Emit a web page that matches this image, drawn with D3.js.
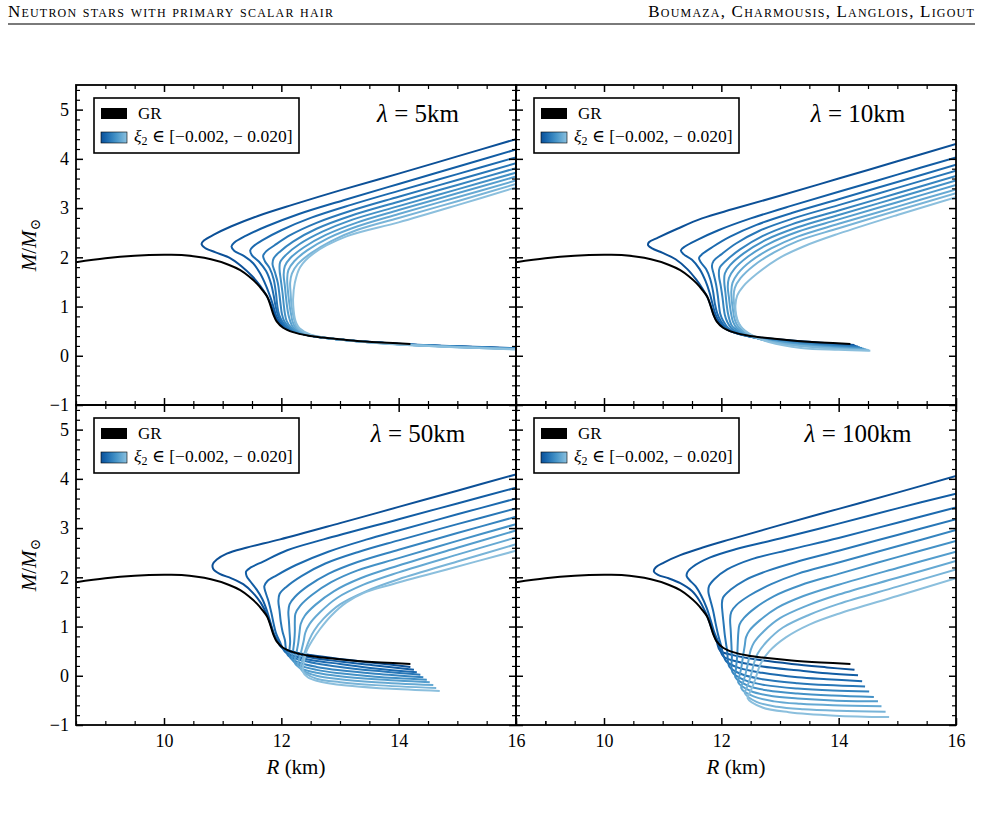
<!DOCTYPE html>
<html>
<head>
<meta charset="utf-8">
<script src="https://cdn.jsdelivr.net/npm/d3@7"></script>
<style>
  body { margin: 0; background: #fff; }
  svg { display: block; }
  text { font-family: "Liberation Serif", "DejaVu Serif", serif; fill: #000; }
</style>
</head>
<body>
<svg id="fig" width="982" height="814"></svg>
<script>
// tick values
const xTicks = [10, 12, 14, 16];
const yTicks = [-1, 0, 1, 2, 3, 4, 5];
const lambdas = ["5", "10", "50", "100"];
const xiValues = [-0.002, -0.004, -0.006, -0.008, -0.010, -0.012, -0.014, -0.016, -0.018, -0.020];
const xiLabel = "[\u22120.002, \u2212 0.020]";

// GR mass-radius curve [R (km), M/Msun]
const grCurve = [[8.5,1.90],[9.0,1.98],[9.5,2.03],[10.0,2.05],[10.3,2.045],[10.8,1.96],[11.1,1.85],[11.3,1.74],[11.45,1.61],[11.58,1.47],[11.68,1.33],[11.76,1.20],[11.82,1.00],[11.87,0.82],[11.92,0.70],[12.03,0.57],[12.2,0.48],[12.45,0.41],[12.7,0.37],[13.2,0.31],[13.7,0.27],[14.2,0.24]];

// lambda = 5 km, one curve per xi2
const curvesL5 = [
  [[16,4.40],[15,4.05],[14,3.70],[13,3.36],[12.2,3.07],[11.6,2.84],[11.15,2.63],[10.85,2.46],[10.68,2.34],[10.64,2.27],[10.70,2.19],[10.88,2.10],[11.12,1.99],[11.32,1.82],[11.5,1.62],[11.64,1.42],[11.75,1.22],[11.83,1.02],[11.89,0.82],[11.95,0.69],[12.06,0.56],[12.4,0.43],[13.0,0.33],[14.0,0.245],[16,0.155]],
  [[16,4.19],[15,3.84],[14,3.49],[13.06,3.16],[12.3,2.88],[11.75,2.63],[11.4,2.44],[11.2,2.30],[11.15,2.22],[11.2,2.13],[11.36,2.03],[11.52,1.88],[11.64,1.67],[11.74,1.42],[11.81,1.20],[11.86,1.02],[11.91,0.82],[11.97,0.69],[12.08,0.56],[12.4,0.43],[13.0,0.33],[14.0,0.24],[16,0.15]],
  [[16,4.03],[15,3.69],[14,3.35],[13.2,3.07],[12.5,2.80],[12.0,2.55],[11.68,2.35],[11.52,2.22],[11.47,2.14],[11.5,2.04],[11.62,1.91],[11.74,1.72],[11.82,1.48],[11.87,1.22],[11.9,1.02],[11.94,0.83],[12.0,0.69],[12.1,0.56],[12.4,0.43],[13.0,0.33],[14.0,0.24],[16,0.15]],
  [[16,3.91],[15,3.57],[14,3.23],[13.2,2.95],[12.6,2.70],[12.15,2.45],[11.88,2.24],[11.74,2.12],[11.69,2.03],[11.72,1.92],[11.8,1.78],[11.87,1.55],[11.91,1.25],[11.93,1.03],[11.96,0.84],[12.02,0.69],[12.12,0.56],[12.4,0.43],[13.0,0.33],[14.0,0.24],[16,0.148]],
  [[16,3.81],[15,3.47],[14,3.13],[13.2,2.85],[12.6,2.58],[12.2,2.32],[11.98,2.12],[11.87,1.98],[11.85,1.86],[11.89,1.70],[11.94,1.48],[11.97,1.22],[11.99,1.02],[12.01,0.85],[12.05,0.70],[12.14,0.57],[12.4,0.43],[13.0,0.33],[14.0,0.24],[16,0.145]],
  [[16,3.72],[15,3.38],[14,3.04],[13.2,2.76],[12.7,2.52],[12.3,2.26],[12.08,2.05],[11.98,1.90],[11.97,1.75],[11.99,1.55],[12.02,1.28],[12.04,1.05],[12.06,0.86],[12.09,0.71],[12.17,0.57],[12.42,0.43],[13.0,0.33],[14.0,0.235],[16,0.142]],
  [[16,3.64],[15,3.30],[14,2.96],[13.3,2.71],[12.75,2.45],[12.38,2.20],[12.15,1.98],[12.06,1.82],[12.04,1.65],[12.06,1.42],[12.08,1.18],[12.1,0.98],[12.12,0.84],[12.15,0.71],[12.2,0.58],[12.44,0.43],[13.0,0.33],[14.0,0.235],[16,0.14]],
  [[16,3.56],[15,3.22],[14,2.88],[13.3,2.63],[12.8,2.39],[12.44,2.14],[12.22,1.92],[12.12,1.74],[12.10,1.56],[12.11,1.35],[12.13,1.12],[12.15,0.95],[12.17,0.82],[12.19,0.70],[12.24,0.58],[12.46,0.43],[13.0,0.33],[14.0,0.232],[16,0.137]],
  [[16,3.49],[15,3.14],[14,2.80],[13.3,2.56],[12.85,2.33],[12.5,2.08],[12.28,1.86],[12.18,1.67],[12.15,1.48],[12.16,1.25],[12.17,1.05],[12.19,0.90],[12.21,0.78],[12.23,0.68],[12.27,0.57],[12.48,0.43],[13.0,0.33],[14.0,0.23],[16,0.134]],
  [[16,3.42],[15,3.06],[14,2.71],[13.1,2.42],[12.55,2.08],[12.32,1.80],[12.23,1.48],[12.2,1.15],[12.21,0.92],[12.23,0.76],[12.26,0.65],[12.31,0.56],[12.5,0.43],[13.0,0.33],[14.0,0.228],[16,0.13]]
];

// lambda = 10 km
const curvesL10 = [
  [[16,4.30],[15,3.95],[14,3.60],[13,3.25],[12.2,2.98],[11.67,2.79],[11.25,2.58],[10.92,2.40],[10.77,2.31],[10.75,2.25],[10.82,2.18],[11.0,2.09],[11.22,1.96],[11.42,1.76],[11.57,1.55],[11.68,1.36],[11.77,1.17],[11.83,0.98],[11.88,0.80],[11.94,0.68],[12.05,0.56],[12.25,0.46],[12.6,0.38],[13.1,0.32],[13.7,0.265],[14.27,0.22]],
  [[16,4.03],[15,3.68],[14,3.33],[13.2,3.05],[12.5,2.79],[11.95,2.55],[11.6,2.36],[11.38,2.22],[11.31,2.14],[11.36,2.06],[11.5,1.95],[11.63,1.76],[11.73,1.52],[11.8,1.28],[11.85,1.05],[11.9,0.84],[11.96,0.70],[12.07,0.56],[12.27,0.45],[12.6,0.37],[13.1,0.31],[13.7,0.25],[14.3,0.20]],
  [[16,3.88],[15,3.53],[14,3.18],[13.2,2.90],[12.6,2.66],[12.15,2.42],[11.85,2.21],[11.68,2.07],[11.62,1.99],[11.65,1.90],[11.74,1.76],[11.81,1.56],[11.86,1.30],[11.89,1.06],[11.93,0.86],[11.99,0.71],[12.09,0.56],[12.29,0.45],[12.6,0.365],[13.1,0.30],[13.7,0.24],[14.33,0.19]],
  [[16,3.76],[15,3.41],[14,3.06],[13.2,2.78],[12.65,2.54],[12.25,2.28],[12.0,2.06],[11.87,1.93],[11.84,1.82],[11.87,1.66],[11.91,1.45],[11.94,1.22],[11.96,1.02],[11.98,0.86],[12.03,0.71],[12.12,0.56],[12.31,0.45],[12.6,0.36],[13.1,0.29],[13.7,0.23],[14.36,0.175]],
  [[16,3.65],[15,3.30],[14,2.95],[13.2,2.67],[12.7,2.43],[12.32,2.16],[12.08,1.93],[11.97,1.78],[11.96,1.62],[11.99,1.42],[12.02,1.18],[12.04,0.98],[12.06,0.83],[12.1,0.69],[12.17,0.56],[12.34,0.45],[12.62,0.355],[13.1,0.28],[13.7,0.215],[14.4,0.16]],
  [[16,3.56],[15,3.21],[14,2.86],[13.3,2.61],[12.75,2.35],[12.38,2.08],[12.15,1.84],[12.06,1.67],[12.05,1.50],[12.07,1.28],[12.09,1.05],[12.11,0.88],[12.14,0.73],[12.19,0.59],[12.36,0.46],[12.64,0.35],[13.1,0.27],[13.7,0.20],[14.43,0.145]],
  [[16,3.47],[15,3.12],[14,2.77],[13.3,2.52],[12.8,2.27],[12.45,2.01],[12.22,1.76],[12.13,1.58],[12.11,1.40],[12.13,1.18],[12.15,0.98],[12.17,0.83],[12.2,0.69],[12.26,0.57],[12.39,0.46],[12.66,0.34],[13.1,0.26],[13.7,0.19],[14.46,0.13]],
  [[16,3.38],[15,3.03],[14,2.68],[13.3,2.42],[12.85,2.18],[12.5,1.92],[12.28,1.67],[12.19,1.48],[12.17,1.30],[12.18,1.10],[12.2,0.92],[12.22,0.77],[12.26,0.64],[12.33,0.54],[12.43,0.45],[12.68,0.33],[13.1,0.24],[13.7,0.175],[14.49,0.12]],
  [[16,3.30],[15,2.95],[14,2.59],[13.3,2.33],[12.9,2.10],[12.55,1.83],[12.33,1.58],[12.23,1.38],[12.21,1.20],[12.22,1.02],[12.24,0.86],[12.27,0.72],[12.32,0.61],[12.39,0.52],[12.48,0.44],[12.72,0.32],[13.1,0.235],[13.7,0.165],[14.52,0.11]],
  [[16,3.22],[15,2.86],[14,2.48],[13.4,2.22],[12.95,1.96],[12.6,1.66],[12.38,1.42],[12.27,1.22],[12.24,1.02],[12.25,0.85],[12.28,0.71],[12.33,0.60],[12.41,0.50],[12.55,0.40],[12.81,0.28],[13.36,0.16],[14.0,0.12],[14.54,0.10]]
];

// lambda = 50 km
const curvesL50 = [
  [[16,4.09],[15,3.76],[14,3.43],[13,3.10],[11.98,2.77],[11.4,2.60],[11.07,2.48],[10.9,2.36],[10.83,2.26],[10.84,2.17],[10.95,2.07],[11.15,1.98],[11.35,1.86],[11.52,1.68],[11.65,1.48],[11.75,1.25],[11.82,1.03],[11.88,0.82],[11.94,0.69],[12.0,0.58],[12.2,0.49],[12.5,0.42],[13.0,0.34],[13.6,0.26],[14.2,0.18]],
  [[16,3.82],[15,3.50],[14,3.18],[12.72,2.77],[12.1,2.55],[11.69,2.32],[11.48,2.20],[11.40,2.12],[11.41,2.02],[11.47,1.92],[11.58,1.75],[11.68,1.55],[11.76,1.30],[11.82,1.06],[11.87,0.86],[11.93,0.72],[12.03,0.55],[12.2,0.46],[12.5,0.37],[13.0,0.29],[13.6,0.21],[14.26,0.12]],
  [[16,3.60],[15,3.28],[14,2.95],[13.46,2.77],[12.8,2.52],[12.25,2.25],[11.92,2.04],[11.76,1.92],[11.71,1.82],[11.73,1.70],[11.78,1.52],[11.83,1.28],[11.87,1.05],[11.91,0.86],[11.97,0.70],[12.07,0.48],[12.25,0.39],[12.55,0.31],[13.0,0.24],[13.6,0.15],[14.31,0.07]],
  [[16,3.40],[15,3.08],[14,2.75],[13.3,2.51],[12.75,2.28],[12.35,2.03],[12.08,1.80],[11.97,1.66],[11.95,1.52],[11.97,1.32],[11.99,1.10],[12.02,0.90],[12.06,0.73],[12.11,0.42],[12.3,0.33],[12.6,0.25],[13.0,0.18],[13.6,0.10],[14.37,0.02]],
  [[16,3.23],[15,2.90],[14,2.56],[13.3,2.31],[12.8,2.07],[12.45,1.82],[12.23,1.60],[12.14,1.45],[12.12,1.30],[12.13,1.10],[12.14,0.90],[12.15,0.70],[12.15,0.37],[12.3,0.27],[12.6,0.18],[13.0,0.11],[13.6,0.04],[14.42,-0.03]],
  [[16,3.08],[15,2.74],[14,2.39],[13.3,2.14],[12.85,1.90],[12.52,1.64],[12.32,1.42],[12.24,1.26],[12.23,1.10],[12.23,0.90],[12.22,0.70],[12.2,0.50],[12.19,0.32],[12.32,0.21],[12.6,0.12],[13.0,0.05],[13.6,-0.02],[14.48,-0.08]],
  [[16,2.95],[15,2.60],[14,2.24],[13.35,1.98],[12.9,1.72],[12.58,1.44],[12.4,1.22],[12.33,1.05],[12.31,0.88],[12.29,0.68],[12.26,0.48],[12.23,0.26],[12.34,0.15],[12.6,0.06],[13.0,-0.01],[13.6,-0.07],[14.53,-0.13]],
  [[16,2.81],[15,2.46],[14,2.10],[13.4,1.85],[12.95,1.58],[12.65,1.28],[12.48,1.05],[12.41,0.88],[12.38,0.70],[12.34,0.50],[12.3,0.32],[12.28,0.21],[12.38,0.10],[12.6,0.0],[13.0,-0.07],[13.6,-0.13],[14.59,-0.19]],
  [[16,2.67],[15,2.32],[14,1.96],[13.45,1.72],[13.0,1.45],[12.72,1.16],[12.56,0.92],[12.48,0.74],[12.42,0.55],[12.37,0.36],[12.33,0.15],[12.42,0.04],[12.6,-0.06],[13.0,-0.13],[13.6,-0.19],[14.64,-0.25]],
  [[16,2.54],[14.82,2.16],[13.8,1.83],[13.4,1.68],[13.11,1.49],[12.85,1.22],[12.66,0.95],[12.53,0.72],[12.43,0.50],[12.38,0.25],[12.37,0.08],[12.45,-0.03],[12.6,-0.10],[13.11,-0.20],[13.8,-0.26],[14.70,-0.31]]
];

// lambda = 100 km
const curvesL100 = [
  [[16,4.06],[15,3.72],[14,3.39],[13,3.06],[12.15,2.77],[11.67,2.60],[11.3,2.45],[11.02,2.30],[10.88,2.20],[10.85,2.12],[10.92,2.05],[11.1,1.98],[11.3,1.88],[11.5,1.72],[11.63,1.52],[11.73,1.29],[11.8,1.08],[11.86,0.87],[11.92,0.70],[11.98,0.51],[12.2,0.42],[12.6,0.33],[13.2,0.24],[13.8,0.17],[14.27,0.12]],
  [[16,3.70],[15,3.40],[14,3.09],[13.0,2.79],[12.24,2.57],[11.8,2.40],[11.52,2.22],[11.42,2.10],[11.41,2.02],[11.46,1.94],[11.56,1.82],[11.66,1.62],[11.75,1.38],[11.82,1.12],[11.88,0.88],[11.95,0.68],[12.03,0.40],[12.3,0.28],[12.7,0.19],[13.3,0.11],[13.8,0.05],[14.33,0.01]],
  [[16,3.42],[15,3.11],[14,2.80],[13.2,2.57],[12.52,2.37],[12.1,2.16],[11.88,1.96],[11.79,1.82],[11.78,1.70],[11.81,1.55],[11.86,1.32],[11.9,1.08],[11.94,0.86],[11.99,0.64],[12.08,0.30],[12.3,0.16],[12.7,0.06],[13.3,-0.03],[13.8,-0.07],[14.40,-0.11]],
  [[16,3.18],[15,2.86],[14,2.54],[13.3,2.32],[12.81,2.14],[12.4,1.94],[12.15,1.74],[12.03,1.59],[12.01,1.46],[12.02,1.28],[12.04,1.05],[12.06,0.82],[12.1,0.50],[12.14,0.18],[12.35,0.03],[12.7,-0.07],[13.3,-0.15],[13.8,-0.19],[14.45,-0.22]],
  [[16,2.96],[15,2.63],[14,2.30],[13.3,2.07],[12.85,1.86],[12.48,1.63],[12.26,1.44],[12.17,1.30],[12.15,1.14],[12.16,0.92],[12.17,0.68],[12.18,0.40],[12.19,0.07],[12.4,-0.09],[12.75,-0.19],[13.3,-0.26],[13.9,-0.30],[14.52,-0.32]],
  [[16,2.74],[15,2.41],[14,2.07],[13.35,1.84],[12.9,1.62],[12.58,1.38],[12.39,1.18],[12.31,1.04],[12.29,0.88],[12.28,0.66],[12.27,0.40],[12.25,0.15],[12.24,-0.03],[12.45,-0.20],[12.8,-0.30],[13.3,-0.36],[13.9,-0.40],[14.60,-0.43]],
  [[16,2.52],[15,2.19],[14,1.85],[13.4,1.62],[12.95,1.38],[12.65,1.12],[12.48,0.92],[12.42,0.78],[12.4,0.62],[12.37,0.40],[12.34,0.16],[12.3,-0.05],[12.29,-0.14],[12.5,-0.31],[12.85,-0.41],[13.3,-0.46],[13.9,-0.50],[14.67,-0.52]],
  [[16,2.33],[15,1.99],[14,1.65],[13.45,1.42],[13.0,1.17],[12.72,0.90],[12.56,0.68],[12.5,0.52],[12.47,0.35],[12.43,0.12],[12.38,-0.10],[12.34,-0.25],[12.55,-0.42],[12.9,-0.52],[13.35,-0.57],[13.9,-0.60],[14.73,-0.62]],
  [[16,2.16],[15,1.81],[14,1.46],[13.5,1.24],[13.05,0.98],[12.78,0.70],[12.62,0.45],[12.56,0.27],[12.52,0.08],[12.47,-0.13],[12.42,-0.28],[12.40,-0.35],[12.6,-0.53],[12.95,-0.63],[13.4,-0.68],[14.0,-0.71],[14.80,-0.73]],
  [[16,1.98],[15,1.62],[14,1.26],[13.5,1.04],[13.1,0.78],[12.82,0.50],[12.66,0.22],[12.58,-0.07],[12.52,-0.25],[12.47,-0.38],[12.45,-0.46],[12.69,-0.64],[13.15,-0.74],[13.94,-0.81],[14.86,-0.84]]
];

const svg = d3.select("#fig");
const W = 440, H = 320;
const lefts = [76, 516], tops = [85, 405];

const x = d3.scaleLinear().domain([8.5, 16]).range([0, W]);
const y = d3.scaleLinear().domain([-1, 5.5]).range([H, 0]);
const blue = d3.scaleLinear().domain([xiValues[0], xiValues[xiValues.length - 1]]).range([0.88, 0.42]);

const line = d3.line()
  .x(d => x(d[0]))
  .y(d => y(d[1]))
  .curve(d3.curveCatmullRom.alpha(0.5));

// running header
svg.append("text").attr("x", 8).attr("y", 17)
  .style("font-size", "17px").style("font-variant", "small-caps").style("letter-spacing", "1.2px")
  .text("Neutron stars with primary scalar hair");
svg.append("text").attr("x", 975).attr("y", 17).attr("text-anchor", "end")
  .style("font-size", "17px").style("font-variant", "small-caps").style("letter-spacing", "1.2px")
  .text("Boumaza, Charmousis, Langlois, Ligout");
svg.append("line").attr("x1", 8).attr("x2", 975).attr("y1", 24).attr("y2", 24)
  .attr("stroke", "#7a7a7a").attr("stroke-width", 2);

// gradient for legend patch
const grad = svg.append("defs").append("linearGradient").attr("id", "xiGrad");
xiValues.forEach((v, i) => {
  grad.append("stop").attr("offset", i / (xiValues.length - 1))
    .attr("stop-color", d3.interpolateBlues(blue(v)));
});

const panels = [
  { curves: curvesL5, lam: lambdas[0], col: 0, row: 0 },
  { curves: curvesL10, lam: lambdas[1], col: 1, row: 0 },
  { curves: curvesL50, lam: lambdas[2], col: 0, row: 1 },
  { curves: curvesL100, lam: lambdas[3], col: 1, row: 1 }
];

const minorX = d3.range(17).map(i => 8.5 + i * 0.5).filter(v => !xTicks.includes(v));
const minorY = d3.range(33).map(i => +(-1 + i * 0.2).toFixed(1)).filter(v => !yTicks.includes(v));

panels.forEach((p, pi) => {
  const g = svg.append("g").attr("transform", `translate(${lefts[p.col]},${tops[p.row]})`);

  g.append("clipPath").attr("id", "clip" + pi)
    .append("rect").attr("width", W).attr("height", H);

  const plot = g.append("g").attr("clip-path", `url(#clip${pi})`);

  p.curves.forEach((c, i) => {
    plot.append("path").datum(c)
      .attr("d", line)
      .attr("fill", "none")
      .attr("stroke", d3.interpolateBlues(blue(xiValues[i])))
      .attr("stroke-width", 2);
  });

  plot.append("path").datum(grCurve)
    .attr("d", line)
    .attr("fill", "none")
    .attr("stroke", "#000")
    .attr("stroke-width", 2);

  // ticks on four sides, pointing inward
  const axes = [
    [d3.axisBottom(x), `translate(0,${H})`],
    [d3.axisTop(x), "translate(0,0)"],
    [d3.axisLeft(y), "translate(0,0)"],
    [d3.axisRight(y), `translate(${W},0)`]
  ];
  axes.forEach(([ax, tr], ai) => {
    const isX = ai < 2;
    const showLabels = (ai === 0 && p.row === 1) || (ai === 2 && p.col === 0);
    const major = ax.tickValues(isX ? xTicks : yTicks).tickSize(-7)
      .tickPadding(isX ? 9 : 7)
      .tickFormat(showLabels ? (d => d < 0 ? "\u2212" + Math.abs(d) : d) : "");
    const ga = g.append("g").attr("transform", tr).call(major);
    ga.select(".domain").remove();
    ga.selectAll("line").attr("stroke-width", 1.5);
    ga.selectAll("text").style("font-size", "18px").style("font-family", "Liberation Serif, serif");

    const minorAx = (ai === 0 ? d3.axisBottom(x) : ai === 1 ? d3.axisTop(x) : ai === 2 ? d3.axisLeft(y) : d3.axisRight(y))
      .tickValues(isX ? minorX : minorY).tickSize(-4).tickFormat("");
    const gm = g.append("g").attr("transform", tr).call(minorAx);
    gm.select(".domain").remove();
    gm.selectAll("line").attr("stroke-width", 1.2);
  });

  g.append("rect").attr("width", W).attr("height", H)
    .attr("fill", "none").attr("stroke", "#000").attr("stroke-width", 1.8);

  // lambda label
  g.append("text").attr("x", 342).attr("y", 37).attr("text-anchor", "middle")
    .style("font-size", "25px")
    .call(t => {
      t.append("tspan").style("font-style", "italic").text("\u03bb");
      t.append("tspan").text(" = " + p.lam + "km");
    });

  // legend
  const lg = g.append("g").attr("transform", "translate(18,13)");
  lg.append("rect").attr("width", 205).attr("height", 55)
    .attr("fill", "#fff").attr("stroke", "#000").attr("stroke-width", 1.6);
  lg.append("rect").attr("x", 7).attr("y", 10).attr("width", 26).attr("height", 11).attr("fill", "#000");
  lg.append("text").attr("x", 44).attr("y", 21).style("font-size", "17px").text("GR");
  lg.append("rect").attr("x", 7).attr("y", 34).attr("width", 26).attr("height", 11)
    .attr("fill", "url(#xiGrad)").attr("stroke", "#000").attr("stroke-width", 0.6);
  lg.append("text").attr("x", 40).attr("y", 44).style("font-size", "17.5px")
    .call(t => {
      t.append("tspan").style("font-style", "italic").text("\u03be");
      t.append("tspan").attr("dy", 3).style("font-size", "12px").text("2");
      t.append("tspan").attr("dy", -3).text(" \u2208 " + xiLabel);
    });

  // axis titles
  if (p.row === 1) {
    g.append("text").attr("x", W / 2).attr("y", H + 49).attr("text-anchor", "middle")
      .style("font-size", "21px")
      .call(t => {
        t.append("tspan").style("font-style", "italic").text("R");
        t.append("tspan").text(" (km)");
      });
  }
  if (p.col === 0) {
    g.append("text").attr("transform", `translate(-40,${H / 2}) rotate(-90)`)
      .attr("text-anchor", "middle").style("font-size", "21px")
      .call(t => {
        t.append("tspan").style("font-style", "italic").text("M");
        t.append("tspan").text("/");
        t.append("tspan").style("font-style", "italic").text("M");
        t.append("tspan").attr("dy", 4).style("font-size", "14px").text("\u2299");
      });
  }
});
</script>
</body>
</html>
